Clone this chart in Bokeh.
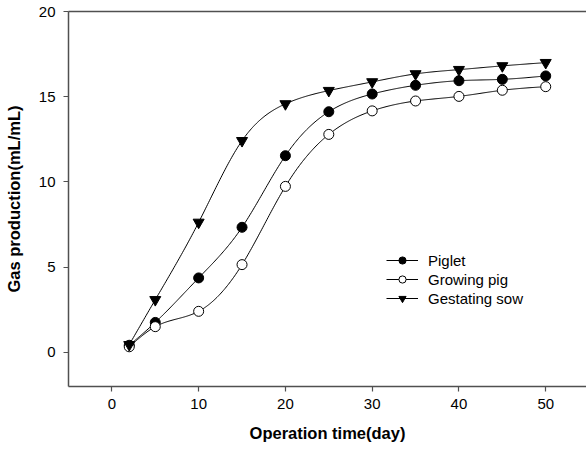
import numpy as np
from bokeh.plotting import figure
from bokeh.models import Range1d, LinearAxis, FixedTicker, Legend, LegendItem
from bokeh.embed import file_html
from bokeh.resources import INLINE

# ---- data ----
days = [2, 5, 10, 15, 20, 25, 30, 35, 40, 45, 50]
piglet = [0.42, 1.76, 4.37, 7.34, 11.54, 14.12, 15.16, 15.67, 15.94, 16.02, 16.22]
growing_pig = [0.33, 1.51, 2.41, 5.15, 9.74, 12.79, 14.17, 14.75, 15.02, 15.38, 15.59]
gestating_sow = [0.45, 3.09, 7.63, 12.42, 14.58, 15.36, 15.87, 16.34, 16.59, 16.81, 17.0]
series_names = ["Piglet", "Growing pig", "Gestating sow"]
x_ticks = [0, 10, 20, 30, 40, 50]
y_ticks = [0, 5, 10, 15, 20]

FONT = "Liberation Sans"


def natural_spline(x, y, n=400):
    x = np.asarray(x, float)
    y = np.asarray(y, float)
    m = len(x)
    h = np.diff(x)
    A = np.zeros((m, m))
    b = np.zeros(m)
    A[0, 0] = 1.0
    A[-1, -1] = 1.0
    for i in range(1, m - 1):
        A[i, i - 1] = h[i - 1]
        A[i, i] = 2 * (h[i - 1] + h[i])
        A[i, i + 1] = h[i]
        b[i] = 6 * ((y[i + 1] - y[i]) / h[i] - (y[i] - y[i - 1]) / h[i - 1])
    M = np.linalg.solve(A, b)
    xs = np.linspace(x[0], x[-1], n)
    idx = np.clip(np.searchsorted(x, xs) - 1, 0, m - 2)
    x0, x1 = x[idx], x[idx + 1]
    hh = x1 - x0
    t0 = x1 - xs
    t1 = xs - x0
    ys = (M[idx] * t0 ** 3 / (6 * hh) + M[idx + 1] * t1 ** 3 / (6 * hh)
          + (y[idx] / hh - M[idx] * hh / 6) * t0
          + (y[idx + 1] / hh - M[idx + 1] * hh / 6) * t1)
    return xs, ys


p = figure(width=586, height=452, output_backend="svg", toolbar_location=None,
           x_range=Range1d(-5, 54.7), y_range=Range1d(-2, 20),
           min_border_left=68, min_border_right=0, min_border_top=11,
           min_border_bottom=66)
p.outline_line_color = None
p.xgrid.visible = False
p.ygrid.visible = False
p.background_fill_color = "white"
p.border_fill_color = "white"

AX = "#505050"
for ax in (p.xaxis[0], p.yaxis[0]):
    ax.axis_line_color = AX
    ax.axis_line_width = 1.5
    ax.major_tick_line_color = AX
    ax.major_tick_line_width = 1.2
    ax.major_tick_out = 5
    ax.major_tick_in = 0
    ax.minor_tick_line_color = None
    ax.major_label_text_font = FONT
    ax.major_label_text_font_size = "15px"
    ax.major_label_text_color = "black"
    ax.axis_label_text_font = FONT
    ax.axis_label_text_font_size = "16.5px"
    ax.axis_label_text_font_style = "bold"
    ax.axis_label_text_color = "black"

p.xaxis[0].ticker = FixedTicker(ticks=x_ticks)
p.yaxis[0].ticker = FixedTicker(ticks=y_ticks)
p.xaxis[0].axis_label = "Operation time(day)"
p.yaxis[0].axis_label = "Gas production(mL/mL)"
p.xaxis[0].major_label_standoff = 7
p.yaxis[0].major_label_standoff = 8
p.xaxis[0].axis_label_standoff = 12
p.yaxis[0].axis_label_standoff = 13

top = LinearAxis(ticker=FixedTicker(ticks=[]), major_label_text_font_size="0px",
                 axis_line_color=AX, axis_line_width=1.5,
                 major_tick_line_color=None, minor_tick_line_color=None)
p.add_layout(top, "above")

items = []
specs = [
    (piglet, "circle", "black", 10),
    (growing_pig, "circle", "white", 10),
    (gestating_sow, "inverted_triangle", "black", 11),
]
for name, (ys, marker, fill, size) in zip(series_names, specs):
    sx, sy = natural_spline(days, ys)
    ln = p.line(sx, sy, line_color="black", line_width=1)
    mk = p.scatter(days, ys, marker=marker, size=size, fill_color=fill,
                   line_color="black", line_width=1)
    items.append(LegendItem(label=name, renderers=[ln, mk]))

legend = Legend(items=items, location=(318, 79), orientation="vertical",
                border_line_color=None, background_fill_alpha=0,
                padding=0, margin=0, spacing=1,
                glyph_width=32, glyph_height=18, label_height=18,
                label_standoff=10, label_text_font=FONT,
                label_text_font_size="15px", label_text_color="black")
p.add_layout(legend, "center")

open("out.html", "w").write(file_html(p, INLINE))
